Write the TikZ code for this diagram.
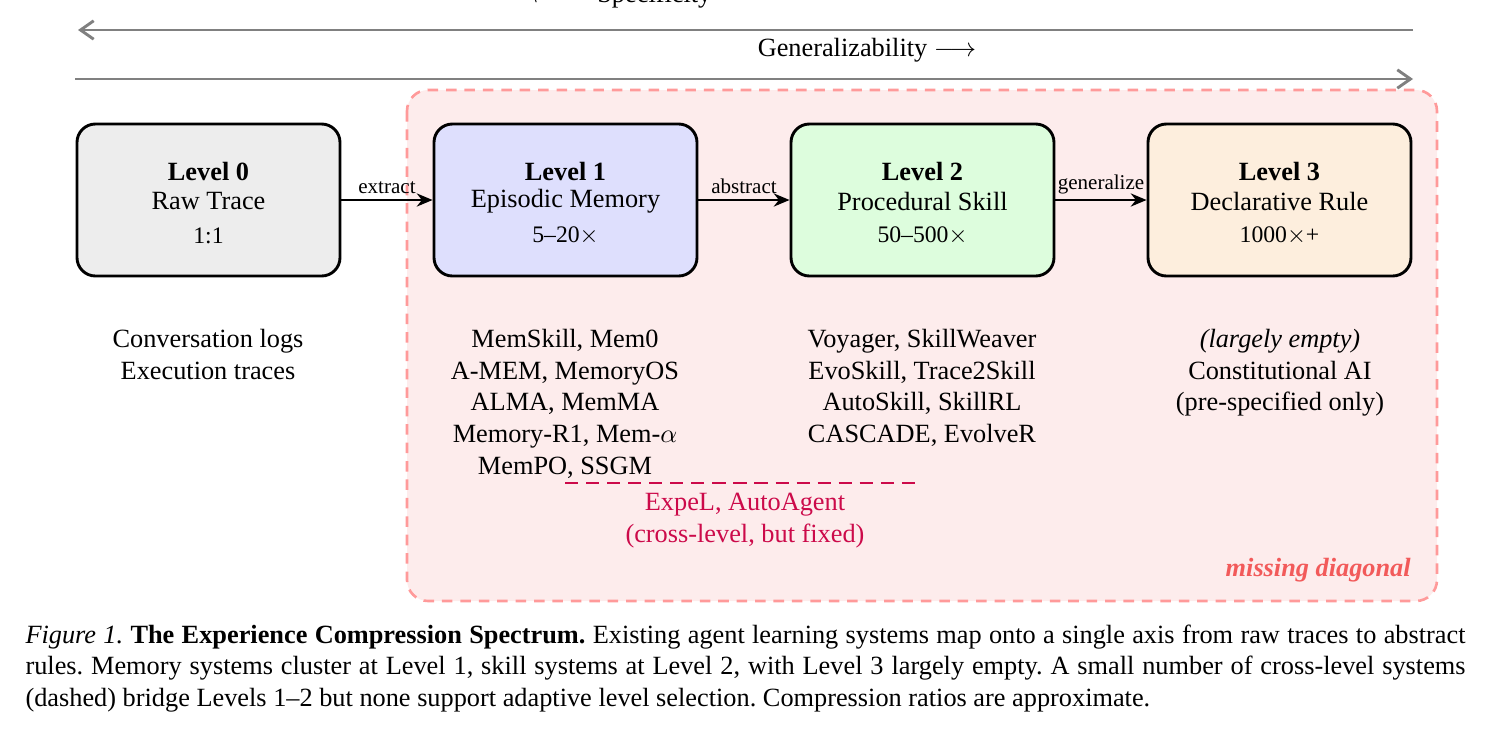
\documentclass[tikz,border=0pt]{standalone}
\usepackage{fontspec}
\setmainfont{Liberation Serif}
\usetikzlibrary{arrows.meta}
\frenchspacing
\newlength{\pxu}\setlength{\pxu}{0.38pt}
\definecolor{missbg}{HTML}{FDECEC}
\definecolor{missline}{HTML}{FF9A9A}
\definecolor{misstext}{HTML}{F25A5A}
\definecolor{crossc}{HTML}{CC0A4A}
\definecolor{lzero}{HTML}{EDEDED}
\definecolor{lone}{HTML}{DEDFFD}
\definecolor{ltwo}{HTML}{DDFDDD}
\definecolor{lthree}{HTML}{FDEEDD}
\tikzset{
  lvl/.style={draw=black, line width=1.1pt, rounded corners=7pt, minimum width=263\pxu, minimum height=152\pxu, inner sep=0pt},
  axis/.style={draw=gray, line width=1.1pt, -{Straight Barb[length=5pt,width=7pt]}},
  flow/.style={draw=black, line width=0.9pt, -{Stealth[length=6pt,width=5pt]}},
  flowlab/.style={font=\footnotesize, above, inner sep=2pt},
  listtxt/.style={align=center, anchor=north, font=\normalsize, inner sep=0pt},
}
\begin{document}
\begin{tikzpicture}[x=\pxu,y=-\pxu]
\useasboundingbox (0,0) rectangle (1509,736);
% axes
\coordinate (sL) at (78,30); \coordinate (sR) at (1413,30);
\coordinate (gL) at (75,79); \coordinate (gR) at (1413,79);
\draw[axis] (sR) -- (sL);
\draw[axis] (gL) -- (gR);
\node (spec) at (620,-4) {$\longleftarrow$\quad Specificity};
\node (gen) at (867,50) {Generalizability $\longrightarrow$};
% missing region
\draw[missline, fill=missbg, line width=1pt, dash pattern=on 4pt off 3pt, rounded corners=8pt] (407,90) rectangle (1437,601);
\node[anchor=east, text=misstext, font=\bfseries\itshape] (miss) at (1420,570) {missing diagonal};
% level boxes
\node[lvl, fill=lzero] (l0) at (208.5,200) {};
\node[lvl, fill=lone] (l1) at (565.5,200) {};
\node[lvl, fill=ltwo] (l2) at (922.5,200) {};
\node[lvl, fill=lthree] (l3) at (1279.5,200) {};
\foreach \n/\t/\s/\r in {l0/Level 0/Raw Trace/1:1, l1/Level 1/Episodic Memory/5--20$\times$, l2/Level 2/Procedural Skill/50--500$\times$, l3/Level 3/Declarative Rule/1000$\times$+}{
  \node[font=\bfseries] (\n t) at ([yshift=29\pxu]\n.center) {\t};
  \node (\n s) at ([yshift=-1\pxu]\n.center) {\s};
  \node[font=\small] (\n r) at ([yshift=-36\pxu]\n.center) {\r};
}
\draw[flow] (l0) -- node[flowlab] {extract} (l1);
\draw[flow] (l1) -- node[flowlab] {abstract} (l2);
\draw[flow] (l2) -- node[flowlab] {generalize} (l3);
% lists
\node[listtxt] (t0) at (208,329) {Conversation logs\\Execution traces};
\node[listtxt] (t1) at (565,329) {MemSkill, Mem0\\A-MEM, MemoryOS\\ALMA, MemMA\\Memory-R1, Mem-$\alpha$\\MemPO, SSGM};
\node[listtxt] (t2) at (922,329) {Voyager, SkillWeaver\\EvoSkill, Trace2Skill\\AutoSkill, SkillRL\\CASCADE, EvolveR};
\node[listtxt] (t3) at (1280,329) {\textit{(largely empty)}\\Constitutional AI\\(pre-specified only)};
% cross-level
\coordinate (cA) at (565,483); \coordinate (cB) at (916,483);
\draw[crossc, line width=1.1pt, dash pattern=on 5pt off 3pt] (cA) -- (cB);
\node[listtxt, text=crossc] (cross) at (745,493) {ExpeL, AutoAgent\\(cross-level, but fixed)};
% caption
\node[anchor=north west, text width=1440\pxu, align=justify, inner sep=0pt, font=\normalsize] (cap) at (25,624)
{\textit{Figure 1.} \textbf{The Experience Compression Spectrum.} Existing agent learning systems map onto a single axis from raw traces to abstract rules. Memory systems cluster at Level 1, skill systems at Level 2, with Level 3 largely empty. A small number of cross-level systems (dashed) bridge Levels 1--2 but none support adaptive level selection. Compression ratios are approximate.};
\end{tikzpicture}
\end{document}
